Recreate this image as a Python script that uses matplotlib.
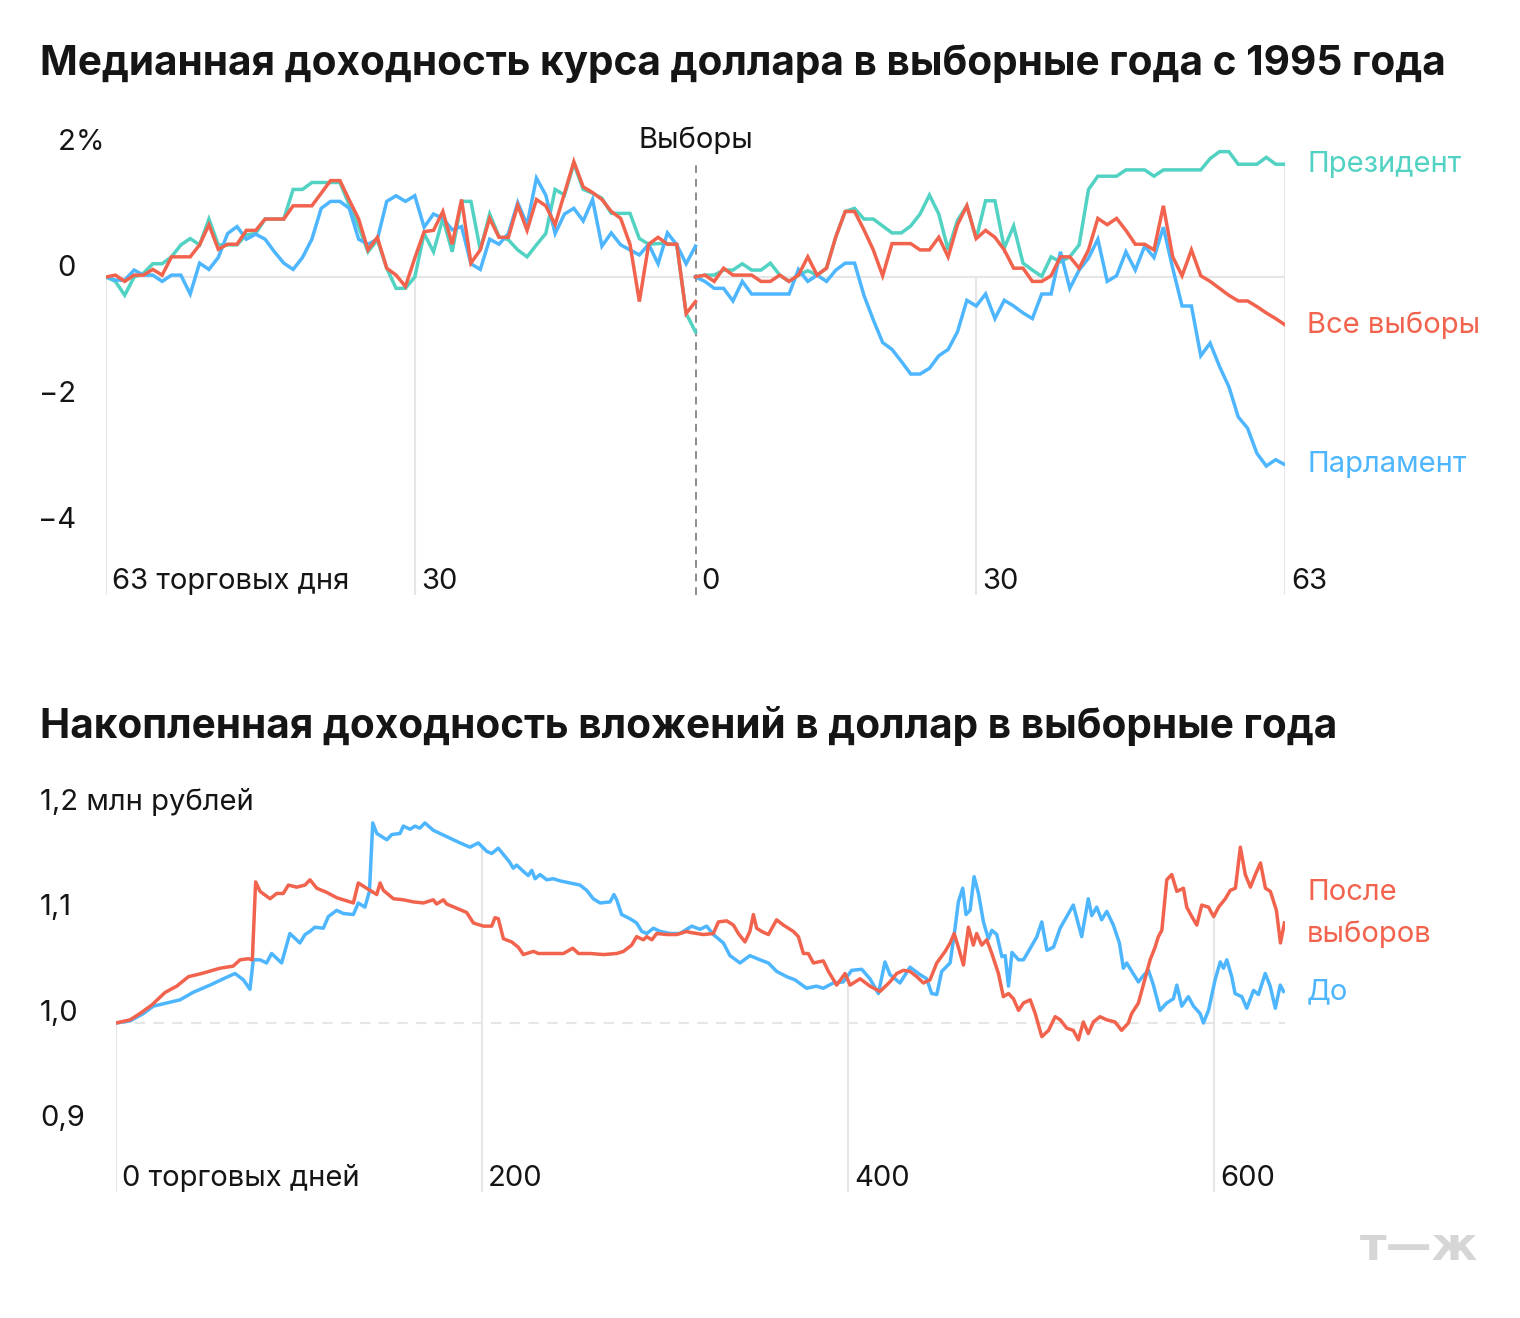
import matplotlib
matplotlib.use('Agg')
import matplotlib.pyplot as plt
import matplotlib.transforms as mtransforms
import numpy as np

W, H = 1520, 1318
plt.rcParams['font.family'] = ['Inter', 'DejaVu Sans']

TEAL = '#52D2C2'
RED = '#F2634E'
BLUE = '#4DB6FF'
GRID = '#E6E6E6'
TXT = '#151515'

# ---------------- top chart data (median return, %) ----------------
days_before = list(range(-63, 1))
days_after = list(range(0, 64))

president_before = [0, -0.07, -0.29, 0.0, 0.06, 0.21, 0.21, 0.32, 0.51, 0.61,
                    0.51, 0.92, 0.51, 0.51, 0.51, 0.67, 0.69, 0.92, 0.92, 0.92,
                    1.39, 1.39, 1.50, 1.50, 1.50, 1.50, 1.14, 0.80, 0.40, 0.59,
                    0.14, -0.18, -0.18, 0.0, 0.69, 0.40, 0.93, 0.40, 1.20, 1.20,
                    0.43, 1.00, 0.64, 0.59, 0.43, 0.32, 0.51, 0.69, 1.39, 1.30,
                    1.80, 1.39, 1.33, 1.25, 1.01, 1.01, 1.01, 0.61, 0.52, 0.53,
                    0.53, 0.51, -0.58, -0.87]
all_before = [0, 0.03, -0.07, 0.03, 0.03, 0.12, 0.03, 0.32, 0.32, 0.32,
              0.51, 0.83, 0.44, 0.52, 0.52, 0.74, 0.74, 0.92, 0.92, 0.92,
              1.13, 1.13, 1.13, 1.33, 1.53, 1.53, 1.22, 0.92, 0.43, 0.63,
              0.14, 0.03, -0.15, 0.30, 0.72, 0.74, 1.04, 0.52, 1.23, 0.22,
              0.43, 0.93, 0.63, 0.63, 1.14, 0.74, 1.23, 1.13, 0.83, 1.33,
              1.83, 1.43, 1.34, 1.23, 1.04, 0.93, 0.52, -0.39, 0.52, 0.63,
              0.52, 0.52, -0.58, -0.39]
parliament_before = [0, -0.05, -0.05, 0.11, 0.03, 0.03, -0.07, 0.03, 0.03, -0.27,
                     0.22, 0.12, 0.31, 0.69, 0.80, 0.60, 0.68, 0.60, 0.40, 0.22,
                     0.12, 0.31, 0.60, 1.09, 1.20, 1.20, 1.09, 0.60, 0.52, 0.60,
                     1.20, 1.29, 1.20, 1.29, 0.79, 1.00, 0.93, 0.75, 0.80, 0.21,
                     0.12, 0.60, 0.52, 0.69, 1.18, 0.83, 1.57, 1.30, 0.69, 1.00,
                     1.09, 0.89, 1.23, 0.49, 0.70, 0.51, 0.43, 0.35, 0.52, 0.21,
                     0.70, 0.51, 0.21, 0.49]

president_after = [0, 0.03, 0.03, 0.11, 0.11, 0.21, 0.11, 0.11, 0.22, 0.03,
                   -0.07, 0.03, 0.10, 0.03, 0.14, 0.64, 1.04, 1.09, 0.92, 0.92,
                   0.81, 0.70, 0.70, 0.81, 1.00, 1.30, 1.00, 0.43, 0.90, 1.13,
                   0.61, 1.21, 1.21, 0.46, 0.81, 0.22, 0.11, 0.01, 0.32, 0.24,
                   0.32, 0.51, 1.39, 1.60, 1.60, 1.60, 1.70, 1.70, 1.70, 1.60,
                   1.70, 1.70, 1.70, 1.70, 1.70, 1.88, 1.99, 1.99, 1.79, 1.79,
                   1.79, 1.90, 1.79, 1.79]
all_after = [0, 0.03, -0.07, 0.14, 0.03, 0.03, 0.03, -0.07, -0.07, 0.03,
             -0.07, 0.03, 0.32, 0.03, 0.14, 0.64, 1.04, 1.04, 0.75, 0.43,
             0.02, 0.53, 0.53, 0.53, 0.43, 0.43, 0.63, 0.32, 0.83, 1.13,
             0.61, 0.74, 0.63, 0.43, 0.14, 0.14, -0.07, -0.07, 0.02, 0.32,
             0.32, 0.14, 0.43, 0.93, 0.83, 0.93, 0.74, 0.52, 0.52, 0.43,
             1.13, 0.32, 0.02, 0.43, 0.02, -0.07, -0.18, -0.29, -0.38, -0.38,
             -0.47, -0.57, -0.66, -0.76]
parliament_after = [0, -0.07, -0.18, -0.18, -0.38, -0.07, -0.27, -0.27, -0.27, -0.27,
                    -0.27, 0.12, -0.07, 0.03, -0.07, 0.11, 0.22, 0.22, -0.29, -0.68,
                    -1.04, -1.15, -1.34, -1.54, -1.54, -1.45, -1.25, -1.15, -0.87, -0.37,
                    -0.46, -0.27, -0.66, -0.37, -0.46, -0.57, -0.66, -0.27, -0.27, 0.40,
                    -0.18, 0.11, 0.30, 0.60, -0.07, 0.02, 0.40, 0.11, 0.49, 0.31,
                    0.79, 0.14, -0.46, -0.46, -1.25, -1.05, -1.42, -1.74, -2.22, -2.40,
                    -2.80, -3.00, -2.90, -2.98]

top_yticks = [2, 0, -2, -4]
top_ytick_labels = ['2', '0', '−2', '−4']
top_xticks = [-63, -30, 0, 30, 63]
top_xtick_labels = ['63 торговых дня', '30', '0', '30', '63']

# ---------------- bottom chart data (mln rubles) ----------------
after_days = [0, 7.7, 13.1, 19.5, 26.8, 33.2, 39.6, 46.8, 56.8, 64, 67.8, 72.3, 74.5,
              76.3, 78.7, 84.2, 87.8, 91.4, 94.2, 98.7, 103.3, 106, 109.7, 115.2, 120.6,
              124.2, 129.7, 132.4, 136, 142.5, 144.3, 146.1, 151.6, 157, 162.5, 168,
              173.4, 175.2, 178.9, 180.7, 186.2, 191.6, 195.3, 200.8, 205.3, 207.1,
              208.9, 211.7, 216.2, 219.8, 222.6, 228.1, 230.8, 237.2, 244.5, 249.6,
              252.7, 259.1, 266.4, 273.6, 277.3, 281.8, 284.5, 288.2, 290, 292.8,
              295.5, 301, 306.4, 311.9, 313.7, 321, 326.4, 329.2, 333.7, 337.4, 340.1,
              343.7, 346.4, 348.3, 350.1, 352.8, 356.5, 361, 364.7, 370.1, 372.9,
              375.6, 378.3, 381.1, 386.5, 389.3, 393.8, 398.4, 401.1, 406.6, 412,
              417.5, 422.9, 426.6, 430.3, 433.9, 437.6, 441.2, 444.8, 448.5, 453.1,
              455.8, 458, 460.3, 463.1, 465.8, 468.5, 470.3, 473.1, 475.8, 478.6,
              482.2, 484.9, 487.7, 490.4, 493.2, 495.9, 499.6, 502.3, 505.9, 509.6,
              513.2, 516, 519.6, 523.1, 525.9, 528.6, 531.3, 534.1, 537.7, 541.4,
              545.9, 549.5, 553.2, 555, 558.7, 562.3, 565.1, 567.8, 569.6, 571.5,
              574.2, 576.9, 579.7, 583.3, 585.1, 587.9, 590.6, 593.3, 597, 599.8,
              602.5, 606.2, 608.9, 611.7, 614.4, 617.1, 619.9, 622.6, 625.4, 628.1,
              630.8, 634.1, 636.3, 638.5]
after_values = [1.000, 1.003, 1.009, 1.017, 1.029, 1.035, 1.044, 1.047, 1.052, 1.054, 1.060, 1.061, 1.060,
                1.134, 1.125, 1.118, 1.123, 1.123, 1.131, 1.129, 1.131, 1.136, 1.128, 1.124, 1.119,
                1.117, 1.114, 1.133, 1.129, 1.122, 1.133, 1.126, 1.118, 1.117, 1.115, 1.114,
                1.117, 1.113, 1.117, 1.113, 1.109, 1.105, 1.095, 1.092, 1.092, 1.100,
                1.099, 1.080, 1.077, 1.072, 1.065, 1.068, 1.066, 1.066, 1.066, 1.071,
                1.066, 1.066, 1.065, 1.066, 1.068, 1.074, 1.082, 1.079, 1.082, 1.079,
                1.085, 1.084, 1.084, 1.087, 1.086, 1.084, 1.085, 1.096, 1.097, 1.093, 1.085,
                1.077, 1.087, 1.103, 1.090, 1.087, 1.084, 1.098, 1.093, 1.087, 1.082,
                1.066, 1.066, 1.057, 1.059, 1.049, 1.036, 1.047, 1.036, 1.042, 1.035,
                1.030, 1.039, 1.047, 1.050, 1.049, 1.044, 1.038, 1.041, 1.057, 1.068,
                1.076, 1.085, 1.072, 1.055, 1.091, 1.074, 1.085, 1.074, 1.079, 1.066,
                1.047, 1.025, 1.028, 1.023, 1.012, 1.019, 1.022, 1.009, 0.987, 0.993,
                1.006, 1.003, 0.995, 0.993, 0.984, 1.001, 0.990, 1.001, 1.006, 1.003,
                1.001, 0.993, 1.000, 1.009, 1.019, 1.042, 1.060, 1.072, 1.082, 1.088,
                1.136, 1.141, 1.125, 1.128, 1.110, 1.101, 1.093, 1.112, 1.110, 1.101,
                1.110, 1.118, 1.126, 1.128, 1.167, 1.141, 1.129, 1.141, 1.152, 1.128,
                1.125, 1.107, 1.076, 1.095]

before_days = [0, 7.7, 15, 20.4, 27.7, 35, 42, 51.4, 58.7, 65, 69.6, 73.2, 75, 78.7, 82.3,
               85, 90.5, 95, 100.5, 103.3, 106, 108.7, 113.3, 116, 120.6, 124.2, 129.7,
               132.4, 136, 138.5, 140.3, 142.5, 148, 150.7, 155.2, 157, 160.7, 163.4, 166,
               168.8, 173.4, 180.7, 188, 193.4, 198, 202.6, 205.3, 208.9, 211.7, 215,
               217.1, 218.9, 222.6, 225.3, 227.2, 229, 231.7, 235.4, 239, 242.6, 248.1,
               253.5, 257.2, 260.8, 264.5, 270, 272.1, 273.6, 276.3, 280.9, 284.5, 287.3,
               290, 293.7, 297.3, 302.8, 308.2, 314.6, 319.1, 322.8, 326.4, 331.9, 335.5,
               341, 346.4, 351.9, 356.5, 361, 366.5, 371, 377.4, 382.8, 386.5, 391.9,
               397.4, 402, 407.5, 412, 416.6, 420.2, 422.9, 428.4, 433.9, 439.3, 443,
               445.7, 448.5, 451.2, 455.8, 458.5, 460.3, 462.7, 464.5, 466.7, 468.9,
               471.3, 474, 476.7, 478.6, 481.3, 484.1, 485.9, 487.7, 489.6, 493.2, 495.9,
               499.6, 503.2, 505.9, 508.7, 512.3, 515.9, 519.5, 523.1, 527.7, 531.3,
               533.2, 535.9, 538.6, 541.4, 545, 548.3, 550.5, 552.3, 555.1, 558.7, 561.4,
               564.2, 566.9, 570.5, 574.2, 577.8, 579.7, 582.4, 586, 588.8, 592.4, 594.2,
               597, 600.6, 603.4, 605.2, 607, 609.7, 611.5, 615.2, 617.9, 621.6, 624.3,
               628, 630.7, 633.5, 636.2, 638]
before_values = [1.000, 1.002, 1.009, 1.016, 1.019, 1.022, 1.029, 1.036, 1.042, 1.047, 1.041, 1.032, 1.060, 1.060, 1.057,
                 1.066, 1.057, 1.085, 1.076, 1.084, 1.087, 1.091, 1.090, 1.101, 1.107, 1.104, 1.103,
                 1.114, 1.110, 1.125, 1.190, 1.180, 1.174, 1.179, 1.180, 1.187, 1.184, 1.187, 1.185,
                 1.190, 1.183, 1.177, 1.171, 1.167, 1.171, 1.163, 1.161, 1.166, 1.160, 1.153,
                 1.147, 1.150, 1.144, 1.140, 1.145, 1.137, 1.141, 1.136, 1.137, 1.135, 1.133,
                 1.131, 1.126, 1.118, 1.114, 1.115, 1.122, 1.117, 1.103, 1.099, 1.095, 1.087,
                 1.085, 1.090, 1.087, 1.085, 1.085, 1.092, 1.089, 1.092, 1.084, 1.076, 1.064,
                 1.057, 1.064, 1.060, 1.057, 1.049, 1.044, 1.041, 1.033, 1.035, 1.033, 1.038,
                 1.039, 1.050, 1.051, 1.042, 1.028, 1.058, 1.046, 1.038, 1.053, 1.046, 1.042,
                 1.028, 1.027, 1.049, 1.057, 1.090, 1.115, 1.128, 1.103, 1.107, 1.139,
                 1.123, 1.096, 1.080, 1.088, 1.084, 1.063, 1.064, 1.035, 1.067, 1.060, 1.060,
                 1.071, 1.082, 1.096, 1.069, 1.072, 1.090, 1.101, 1.112, 1.082, 1.118,
                 1.102, 1.110, 1.098, 1.106, 1.093, 1.076, 1.052, 1.057, 1.049, 1.039, 1.045,
                 1.050, 1.036, 1.012, 1.019, 1.023, 1.036, 1.016, 1.025, 1.016, 1.009, 1.000,
                 1.012, 1.041, 1.058, 1.052, 1.060, 1.044, 1.028, 1.025, 1.014, 1.031, 1.027,
                 1.047, 1.035, 1.014, 1.036, 1.030]

bot_yticks = [1.2, 1.1, 1.0, 0.9]
bot_ytick_labels = ['1,2 млн рублей', '1,1', '1,0', '0,9']
bot_xticks = [0, 200, 400, 600]
bot_xtick_labels = ['0 торговых дней', '200', '400', '600']

# ---------------- figure ----------------
fig = plt.figure(figsize=(W / 100, H / 100), dpi=100)
fig.patch.set_facecolor('white')


def fx(x):
    return x / W


def fy(y):
    return 1 - y / H


LW = 2.5
TICK_FS = 21
TITLE_FS = 29.2

fig.text(fx(40), fy(64), 'Медианная доходность курса доллара в выборные года с 1995 года',
         fontsize=TITLE_FS, fontweight='bold', color=TXT, ha='left', va='center')
fig.text(fx(40), fy(726), 'Накопленная доходность вложений в доллар в выборные года',
         fontsize=TITLE_FS, fontweight='bold', color=TXT, ha='left', va='center')

# ---- top axes ----
PPU = 63.0
Y0 = 277
TOP, BOT = 130, 595
ax1 = fig.add_axes([fx(106), fy(BOT), (1285 - 106) / W, (BOT - TOP) / H])
ax1.set_xlim(-63, 63)
ymin1 = (Y0 - BOT) / PPU
ax1.set_ylim(ymin1, (Y0 - TOP) / PPU)
ax1.axis('off')

ax1.plot([-63, 63], [0, 0], color=GRID, lw=1.5, zorder=1, solid_capstyle='butt')
for xv in [-63, -30, 30]:
    ax1.plot([xv, xv], [ymin1, 0], color=GRID, lw=1.5, zorder=1)
ax1.plot([63, 63], [ymin1, president_after[-1]], color=GRID, lw=1.5, zorder=1)
ax1.plot([0, 0], [ymin1, 1.81], color='#8C8C8C', lw=1.4, dashes=(4, 3), zorder=1)

for d, s, c in [(days_before, president_before, TEAL), (days_after, president_after, TEAL),
                (days_before, parliament_before, BLUE), (days_after, parliament_after, BLUE),
                (days_before, all_before, RED), (days_after, all_after, RED)]:
    ax1.plot(d, s, color=c, lw=LW, zorder=3, solid_joinstyle='miter')

tr_y = mtransforms.offset_copy(mtransforms.blended_transform_factory(fig.transFigure, ax1.transData),
                               fig=fig, x=0, y=9, units='dots')
for v, lab in zip(top_yticks, top_ytick_labels):
    ax1.text(fx(76), v, lab, transform=tr_y, ha='right', va='center', fontsize=TICK_FS, color=TXT)
ax1.text(fx(76), 2, '%', transform=tr_y, ha='left', va='center', fontsize=TICK_FS, color=TXT)

tr_x = mtransforms.offset_copy(mtransforms.blended_transform_factory(ax1.transData, fig.transFigure),
                               fig=fig, x=6, y=0, units='dots')
for v, lab in zip(top_xticks, top_xtick_labels):
    ax1.text(v, fy(581), lab, transform=tr_x, ha='left', va='center', fontsize=TICK_FS, color=TXT)

tr_c = mtransforms.blended_transform_factory(ax1.transData, fig.transFigure)
ax1.text(0, fy(140), 'Выборы', transform=tr_c, ha='center', va='center', fontsize=TICK_FS, color=TXT)

tr_r = mtransforms.blended_transform_factory(fig.transFigure, ax1.transData)
ax1.text(fx(1307), president_after[-1], 'Президент', transform=tr_r, ha='left', va='center',
         fontsize=TICK_FS, color=TEAL)
ax1.text(fx(1307), all_after[-1], 'Все выборы', transform=tr_r, ha='left', va='center',
         fontsize=TICK_FS, color=RED)
ax1.text(fx(1307), parliament_after[-1], 'Парламент', transform=tr_r, ha='left', va='center',
         fontsize=TICK_FS, color=BLUE)

# ---- bottom axes ----
PPD = 1.83
PPV = 1053.0
YB0 = 1023
TOP2, BOT2 = 790, 1192
X2MAX = (1285 - 116) / PPD
ax2 = fig.add_axes([fx(116), fy(BOT2), (1285 - 116) / W, (BOT2 - TOP2) / H])
ax2.set_xlim(0, X2MAX)
ymin2 = 1 + (YB0 - BOT2) / PPV
ax2.set_ylim(ymin2, 1 + (YB0 - TOP2) / PPV)
ax2.axis('off')

ax2.plot([0, X2MAX], [1, 1], color=GRID, lw=1.5, dashes=(5, 4), zorder=1)
for xv in bot_xticks:
    top = max(np.interp(xv, after_days, after_values), np.interp(xv, before_days, before_values))
    ax2.plot([xv, xv], [ymin2, top], color=GRID, lw=1.5, zorder=1)

ax2.plot(before_days, before_values, color=BLUE, lw=LW, zorder=3)
ax2.plot(after_days, after_values, color=RED, lw=LW, zorder=4)

tr_y2 = mtransforms.offset_copy(mtransforms.blended_transform_factory(fig.transFigure, ax2.transData),
                                fig=fig, x=0, y=10, units='dots')
for v, lab in zip(bot_yticks, bot_ytick_labels):
    ax2.text(fx(40), v, lab, transform=tr_y2, ha='left', va='center', fontsize=TICK_FS, color=TXT)

tr_x2 = mtransforms.offset_copy(mtransforms.blended_transform_factory(ax2.transData, fig.transFigure),
                                fig=fig, x=6, y=0, units='dots')
for v, lab in zip(bot_xticks, bot_xtick_labels):
    ax2.text(v, fy(1178), lab, transform=tr_x2, ha='left', va='center', fontsize=TICK_FS, color=TXT)

fig.text(fx(1307), fy(893), 'После', ha='left', va='center', fontsize=TICK_FS, color=RED)
fig.text(fx(1307), fy(934), 'выборов', ha='left', va='center', fontsize=TICK_FS, color=RED)
fig.text(fx(1307), fy(992), 'До', ha='left', va='center', fontsize=TICK_FS, color=BLUE)

# logo
fig.text(fx(1419), fy(1248), 'т—ж', ha='center', va='center', fontsize=33, fontweight='bold',
         color='#D6D6D6', family=['DejaVu Sans'])

fig.savefig('out.png', dpi=100, facecolor='white')
